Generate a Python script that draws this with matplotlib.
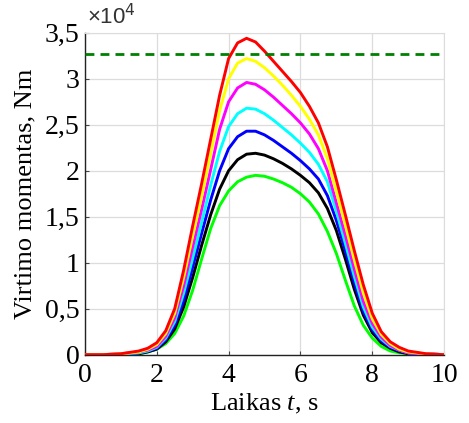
import matplotlib
matplotlib.use("Agg")
import matplotlib.pyplot as plt
from matplotlib.ticker import FuncFormatter

plt.rcParams['mathtext.fontset'] = 'custom'
plt.rcParams['mathtext.it'] = 'Liberation Serif:italic'
plt.rcParams['mathtext.rm'] = 'Liberation Serif'

# time grid, s
t = [0, 0.5, 1.0, 1.5, 1.75, 2.0, 2.25, 2.5, 2.75, 3.0, 3.25, 3.5, 3.75, 4.0,
     4.25, 4.5, 4.75, 5.0, 5.25, 5.5, 5.75, 6.0, 6.25, 6.5, 6.75, 7.0, 7.25,
     7.5, 7.75, 8.0, 8.25, 8.5, 8.75, 9.0, 9.5, 10.0]

# torque curves, x1e4 Nm
green = [0, 0, 0.0, 0.01, 0.03, 0.06, 0.12, 0.23, 0.42, 0.70, 1.04, 1.37, 1.62, 1.78,
         1.88, 1.93, 1.95, 1.94, 1.91, 1.87, 1.82, 1.75, 1.66, 1.53, 1.34, 1.10, 0.81,
         0.53, 0.32, 0.18, 0.09, 0.04, 0.02, 0.01, 0, 0]
black = [0, 0, 0.0, 0.01, 0.03, 0.06, 0.14, 0.28, 0.52, 0.84, 1.19, 1.52, 1.80, 2.00,
         2.12, 2.18, 2.19, 2.17, 2.13, 2.08, 2.02, 1.95, 1.87, 1.76, 1.59, 1.35, 1.04,
         0.71, 0.43, 0.24, 0.13, 0.07, 0.03, 0.01, 0, 0]
blue = [0, 0, 0.0, 0.02, 0.04, 0.07, 0.16, 0.32, 0.59, 0.95, 1.32, 1.68, 2.00, 2.24,
        2.37, 2.43, 2.43, 2.39, 2.33, 2.26, 2.19, 2.11, 2.02, 1.91, 1.73, 1.46, 1.13,
        0.78, 0.47, 0.27, 0.15, 0.08, 0.04, 0.02, 0.01, 0]
cyan = [0, 0, 0.01, 0.02, 0.04, 0.08, 0.18, 0.36, 0.67, 1.05, 1.44, 1.84, 2.21, 2.48,
        2.62, 2.68, 2.67, 2.62, 2.55, 2.47, 2.39, 2.30, 2.20, 2.07, 1.88, 1.56, 1.21,
        0.85, 0.52, 0.30, 0.17, 0.09, 0.05, 0.02, 0.01, 0]
magenta = [0, 0, 0.01, 0.03, 0.05, 0.09, 0.20, 0.40, 0.75, 1.17, 1.58, 2.01, 2.45, 2.75,
           2.90, 2.96, 2.94, 2.88, 2.80, 2.71, 2.62, 2.52, 2.40, 2.24, 2.00, 1.65, 1.30,
           0.93, 0.58, 0.34, 0.19, 0.10, 0.05, 0.02, 0.01, 0]
yellow = [0, 0, 0.01, 0.03, 0.06, 0.11, 0.23, 0.45, 0.84, 1.29, 1.72, 2.18, 2.65, 3.00,
          3.17, 3.22, 3.19, 3.12, 3.03, 2.93, 2.82, 2.70, 2.56, 2.39, 2.13, 1.77, 1.41,
          1.03, 0.67, 0.39, 0.22, 0.12, 0.06, 0.03, 0.01, 0]
red = [0, 0, 0.01, 0.04, 0.07, 0.13, 0.26, 0.50, 0.92, 1.40, 1.86, 2.34, 2.82, 3.22,
       3.39, 3.44, 3.40, 3.30, 3.19, 3.08, 2.97, 2.85, 2.70, 2.52, 2.26, 1.90, 1.52,
       1.13, 0.76, 0.45, 0.25, 0.14, 0.08, 0.04, 0.01, 0]

limit = 3.27  # x1e4 Nm

curves = [(green, '#00ff00'), (black, '#000000'), (blue, '#0000ff'),
          (cyan, '#00ffff'), (magenta, '#ff00ff'), (yellow, '#ffff00'),
          (red, '#ff0000')]

fig = plt.figure(figsize=(4.69, 4.23), dpi=100)
ax = fig.add_axes([0.181, 0.1615, 0.766, 0.761])

for vals, col in curves:
    ax.plot(t, vals, color=col, lw=2.1, zorder=3, solid_joinstyle='round')

ax.plot([0, 10], [limit, limit], color='#008000', lw=2.0, ls=(0, (3.2, 2.2)), zorder=4)

ax.set_xlim(0, 10)
ax.set_ylim(0, 3.5)
ax.set_xticks([0, 2, 4, 6, 8, 10])
ax.set_yticks([0, 0.5, 1, 1.5, 2, 2.5, 3, 3.5])
ax.yaxis.set_major_formatter(FuncFormatter(lambda v, p: ('%g' % v).replace('.', ',')))

ax.grid(True, color='#dcdcdc', lw=0.9)
ax.set_axisbelow(True)
for s in ['top', 'right']:
    ax.spines[s].set_color('#dcdcdc')
for s in ['left', 'bottom']:
    ax.spines[s].set_color('#222222')
    ax.spines[s].set_linewidth(1.0)

ax.tick_params(direction='in', length=3, width=0.8, color='#444444',
               labelsize=20, pad=4)
for lab in ax.get_xticklabels() + ax.get_yticklabels():
    lab.set_family('Liberation Serif')
ax.tick_params(axis='x', pad=6)

ax.set_xlabel('Laikas $t$, s', family='Liberation Serif', fontsize=19, labelpad=3)
ax.set_ylabel('Virtimo momentas, Nm', family='Liberation Serif', fontsize=19, labelpad=6)

ax.text(0.005, 1.01, '×10$^{4}$', transform=ax.transAxes, ha='left', va='bottom',
        fontsize=16, family='Liberation Sans', color='#333333', math_fontfamily='dejavusans')

fig.savefig('out.png', dpi=100)
